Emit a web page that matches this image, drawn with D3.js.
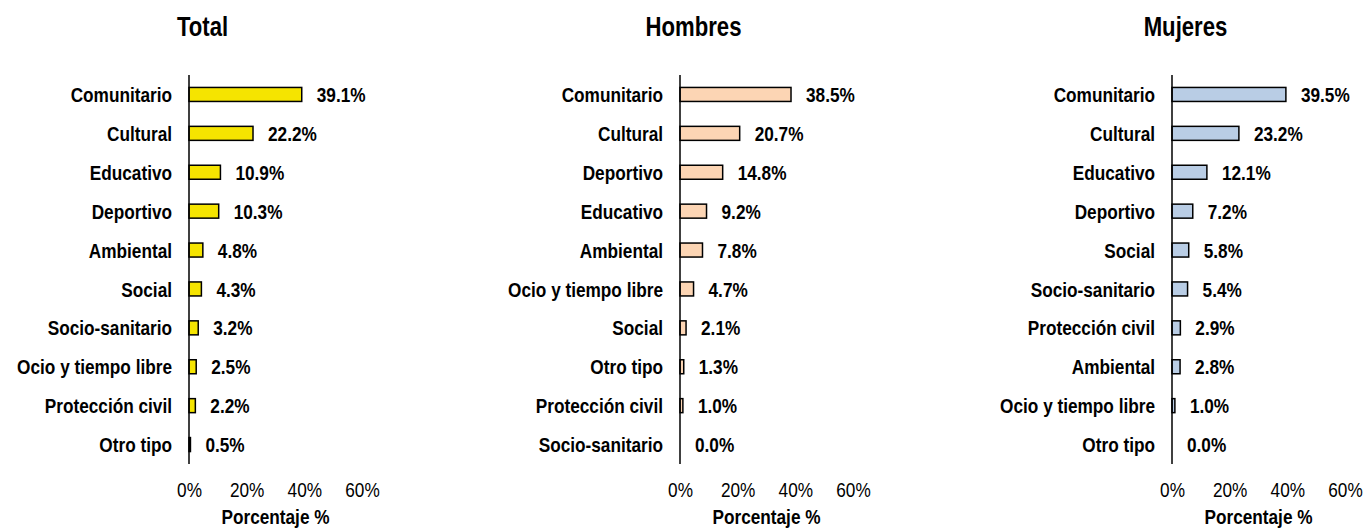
<!DOCTYPE html>
<html><head><meta charset="utf-8">
<script src="https://cdn.jsdelivr.net/npm/d3@7"></script>
<style>body{margin:0;background:#fff}svg{display:block;font-family:"Liberation Sans",Arial,sans-serif}</style>
</head><body><svg id="c" width="1366" height="529"></svg>
<script>
const totalCats = ["Comunitario","Cultural","Educativo","Deportivo","Ambiental","Social","Socio-sanitario","Ocio y tiempo libre","Protección civil","Otro tipo"];
const totalVals = [39.1,22.2,10.9,10.3,4.8,4.3,3.2,2.5,2.2,0.5];
const hombresCats = ["Comunitario","Cultural","Deportivo","Educativo","Ambiental","Ocio y tiempo libre","Social","Otro tipo","Protección civil","Socio-sanitario"];
const hombresVals = [38.5,20.7,14.8,9.2,7.8,4.7,2.1,1.3,1.0,0.0];
const mujeresCats = ["Comunitario","Cultural","Educativo","Deportivo","Social","Socio-sanitario","Protección civil","Ambiental","Ocio y tiempo libre","Otro tipo"];
const mujeresVals = [39.5,23.2,12.1,7.2,5.8,5.4,2.9,2.8,1.0,0.0];
const titles = ["Total","Hombres","Mujeres"];
const tickVals = [0,20,40,60];
const xTitle = "Porcentaje %";
const colors = ["#f5e400","#fcd5b4","#b9cde5"];

(function(){
const panels = [
  {cats: totalCats, vals: totalVals, x0: 189},
  {cats: hombresCats, vals: hombresVals, x0: 680},
  {cats: mujeresCats, vals: mujeresVals, x0: 1172}
];
const svg = d3.select("#c");
const yTop = 75, yBot = 464, width = 173;
const SX = 0.82;
const tr = (x, y) => `translate(${x},${y}) scale(${SX},1)`;

panels.forEach((p, i) => {
  const g = svg.append("g");
  const x = d3.scaleLinear().domain([0,60]).range([p.x0, p.x0 + width]);
  const y = d3.scaleBand().domain(p.cats).range([yTop, yBot]).paddingInner(0.64).paddingOuter(0.32);
  g.append("text").attr("transform", tr(p.x0 + 13.5, 36)).attr("text-anchor","middle")
    .attr("font-size", 27).attr("font-weight","bold").text(titles[i]);
  g.selectAll("rect").data(p.vals).join("rect")
    .attr("x", x(0)).attr("y", (d,j) => y(p.cats[j]))
    .attr("width", d => x(d) - x(0)).attr("height", y.bandwidth())
    .attr("fill", colors[i]).attr("stroke", "#000").attr("stroke-width", d => d > 0 ? 1.5 : 0);
  g.selectAll("text.cat").data(p.cats).join("text").attr("class","cat")
    .attr("transform", d => tr(p.x0 - 17, y(d) + y.bandwidth()/2)).attr("dy","0.36em")
    .attr("text-anchor","end").attr("font-size", 21).attr("font-weight","bold").text(d => d);
  g.selectAll("text.val").data(p.vals).join("text").attr("class","val")
    .attr("transform", (d,j) => tr(x(d) + 15, y(p.cats[j]) + y.bandwidth()/2)).attr("dy","0.36em")
    .attr("font-size", 21).attr("font-weight","bold").text(d => d.toFixed(1) + "%");
  g.append("line").attr("x1", p.x0).attr("x2", p.x0).attr("y1", yTop).attr("y2", yBot)
    .attr("stroke","#000").attr("stroke-width",1.5);
  const ax = g.append("g").attr("transform", `translate(0,479)`)
    .call(d3.axisBottom(x).tickValues(tickVals).tickFormat(d => d + "%").tickSize(0));
  ax.select(".domain").remove();
  ax.selectAll("text").attr("font-size", 21).attr("font-family","Liberation Sans, Arial, sans-serif")
    .attr("fill","#000").attr("transform", `scale(${SX},1)`);
  g.append("text").attr("transform", tr(p.x0 + width/2, 524)).attr("text-anchor","middle")
    .attr("font-size", 21).attr("font-weight","bold").text(xTitle);
});
})();
</script></body></html>
